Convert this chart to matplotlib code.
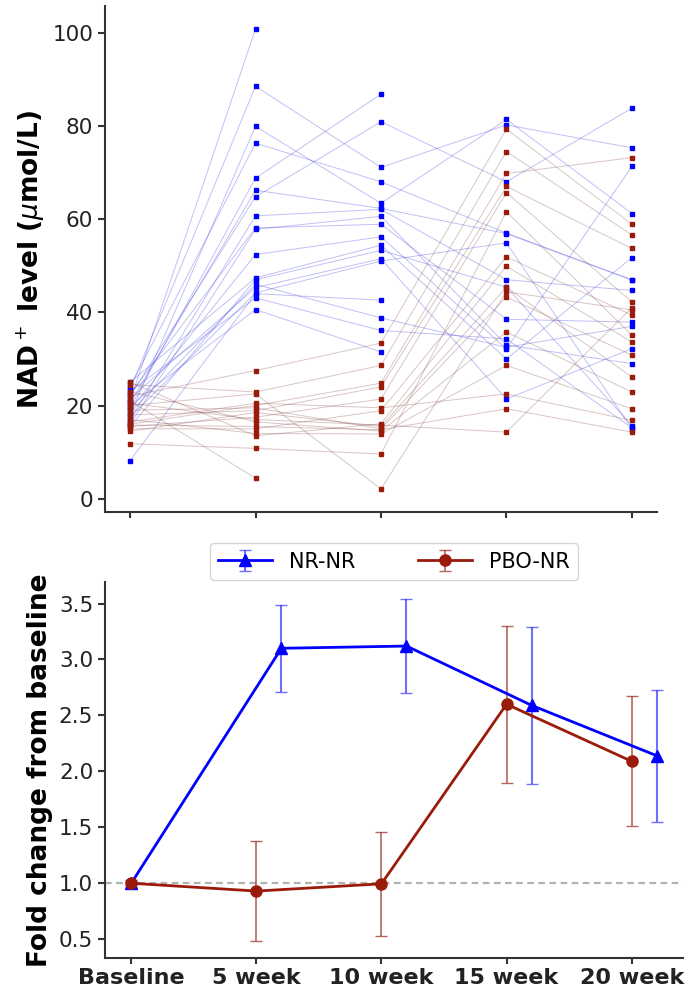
import numpy as np
import matplotlib
matplotlib.use('Agg')
import matplotlib.pyplot as plt
import matplotlib as mpl

mpl.rcParams['font.family'] = 'DejaVu Sans'
mpl.rcParams['axes.linewidth'] = 1.5
mpl.rcParams['axes.edgecolor'] = '#333333'
mpl.rcParams['xtick.color'] = '#333333'
mpl.rcParams['ytick.color'] = '#333333'
mpl.rcParams['xtick.labelcolor'] = '#222222'
mpl.rcParams['ytick.labelcolor'] = '#222222'

nan = np.nan
timepoints = ['Baseline', '5 week', '10 week', '15 week', '20 week']

# individual NAD+ levels (umol/L), one row per subject
nr_nr = [
    [21.0, 100.8, nan, nan, nan],
    [23.5, 88.5, 71.1, 80.2, 75.3],
    [19.5, 68.8, 86.8, nan, nan],
    [22.0, 64.8, 80.9, 68.0, 83.8],
    [24.0, 76.3, 68.0, 57.0, 47.0],
    [18.0, 79.9, 63.4, 81.4, 61.2],
    [20.5, 66.2, 62.3, 56.9, 46.9],
    [17.0, 60.7, 62.1, 47.0, 44.7],
    [22.5, 58.1, 58.9, 38.5, 37.9],
    [16.0, 57.8, 60.6, 33.0, 29.0],
    [19.0, 52.4, 56.2, 32.2, 71.3],
    [25.0, 47.4, 54.4, 30.0, 51.7],
    [15.5, 47.0, 53.3, 45.4, 15.7],
    [21.5, 45.3, 51.5, 21.4, 32.2],
    [17.5, 44.2, 51.0, 54.9, 15.0],
    [8.2, 44.0, 42.6, nan, nan],
    [23.0, 43.1, 36.1, 34.3, 15.2],
    [20.0, 40.6, 31.5, nan, nan],
    [18.5, 46.0, 38.8, 32.5, 37.0],
]
pbo_nr = [
    [22.0, 27.5, 33.4, 79.3, 58.9],
    [24.5, 22.9, 28.6, 74.5, 56.6],
    [20.0, 22.5, 2.1, 44.4, 40.5],
    [16.0, 20.0, 24.8, 69.8, 73.2],
    [18.0, 18.9, 24.0, 67.0, 53.7],
    [15.5, 17.5, 21.4, 65.7, 42.2],
    [21.0, 4.4, nan, nan, nan],
    [11.8, 10.8, 9.6, 61.6, 35.1],
    [15.0, 15.0, 18.9, 51.9, 39.4],
    [25.0, 13.5, 16.1, 49.9, 33.6],
    [14.5, 18.5, 15.5, 45.4, 26.1],
    [19.0, 19.5, 15.0, 43.3, 30.8],
    [23.0, 16.5, 14.5, 35.8, 22.9],
    [17.0, 14.0, 13.9, 28.6, 19.3],
    [16.5, 20.5, 19.5, 22.5, 16.8],
    [15.8, 15.5, 14.8, 19.3, 14.3],
    [20.5, 17.0, 15.8, 14.3, 41.0],
]

# fold change from baseline, mean and error
nr_x = [0, 1.2, 2.2, 3.2, 4.2]
nr_mean = [1.0, 3.10, 3.12, 2.59, 2.14]
nr_err = [0.03, 0.39, 0.42, 0.70, 0.59]
pbo_x = [0, 1, 2, 3, 4]
pbo_mean = [1.0, 0.93, 0.995, 2.60, 2.09]
pbo_err = [0.02, 0.445, 0.465, 0.70, 0.58]

blue = '#0000ff'
red = '#9b1b0b'

fig = plt.figure(figsize=(6.93, 9.96), dpi=100)

# top: individual trajectories
ax1 = fig.add_axes([0.1515, 0.486, 0.7965, 0.508])
xs = np.arange(len(timepoints))
for row in nr_nr:
    ax1.plot(xs, row, color='#3030e0', lw=0.7, alpha=0.3)
for row in pbo_nr:
    ax1.plot(xs, row, color='#7a3030', lw=0.7, alpha=0.28)
for row in nr_nr:
    ax1.plot(xs, row, ls='none', marker='s', ms=2.2, color=blue)
for row in pbo_nr:
    ax1.plot(xs, row, ls='none', marker='s', ms=2.2, color=red)
ax1.set_xticks(xs)
ax1.set_xticklabels([])
ax1.set_yticks([0, 20, 40, 60, 80, 100])
ax1.tick_params(axis='y', labelsize=15.5, width=1.5, length=5)
ax1.tick_params(axis='x', width=1.5, length=4)
ax1.set_ylabel(r'NAD$^+$ level ($\mu$mol/L)', fontsize=19, fontweight='bold')
ax1.spines['top'].set_visible(False)
ax1.spines['right'].set_visible(False)

# bottom: fold change
ax2 = fig.add_axes([0.1515, 0.0382, 0.834, 0.3775])
ax2.axhline(1.0, color='#aaaaaa', ls=(0, (3, 2)), lw=1.6, alpha=0.9, zorder=0)
ax2.errorbar(nr_x, nr_mean, yerr=nr_err, color=blue, marker='^', ms=8, lw=2,
             capsize=4, elinewidth=1.5, ecolor=(0.2, 0.2, 1.0, 0.7), label='NR-NR')
ax2.errorbar(pbo_x, pbo_mean, yerr=pbo_err, color=red, marker='o', ms=8, lw=2,
             capsize=4, elinewidth=1.2, ecolor=(0.61, 0.2, 0.15, 0.75), label='PBO-NR')
ax2.set_xticks(xs)
ax2.set_xticklabels(timepoints, fontsize=16, fontweight='bold')
ax2.set_yticks([0.5, 1.0, 1.5, 2.0, 2.5, 3.0, 3.5])
ax2.tick_params(axis='y', labelsize=15.5, width=1.5, length=5)
ax2.tick_params(axis='x', width=1.5, length=4)
ax2.set_ylabel('Fold change from baseline', fontsize=19, fontweight='bold')
ax2.spines['top'].set_visible(False)
ax2.spines['right'].set_visible(False)
ax2.legend(loc='lower center', bbox_to_anchor=(0.5, 1.0), ncol=2, fontsize=15,
           columnspacing=3.0, handlelength=2.6, borderaxespad=0.1)

fig.savefig('out.png', dpi=100)
